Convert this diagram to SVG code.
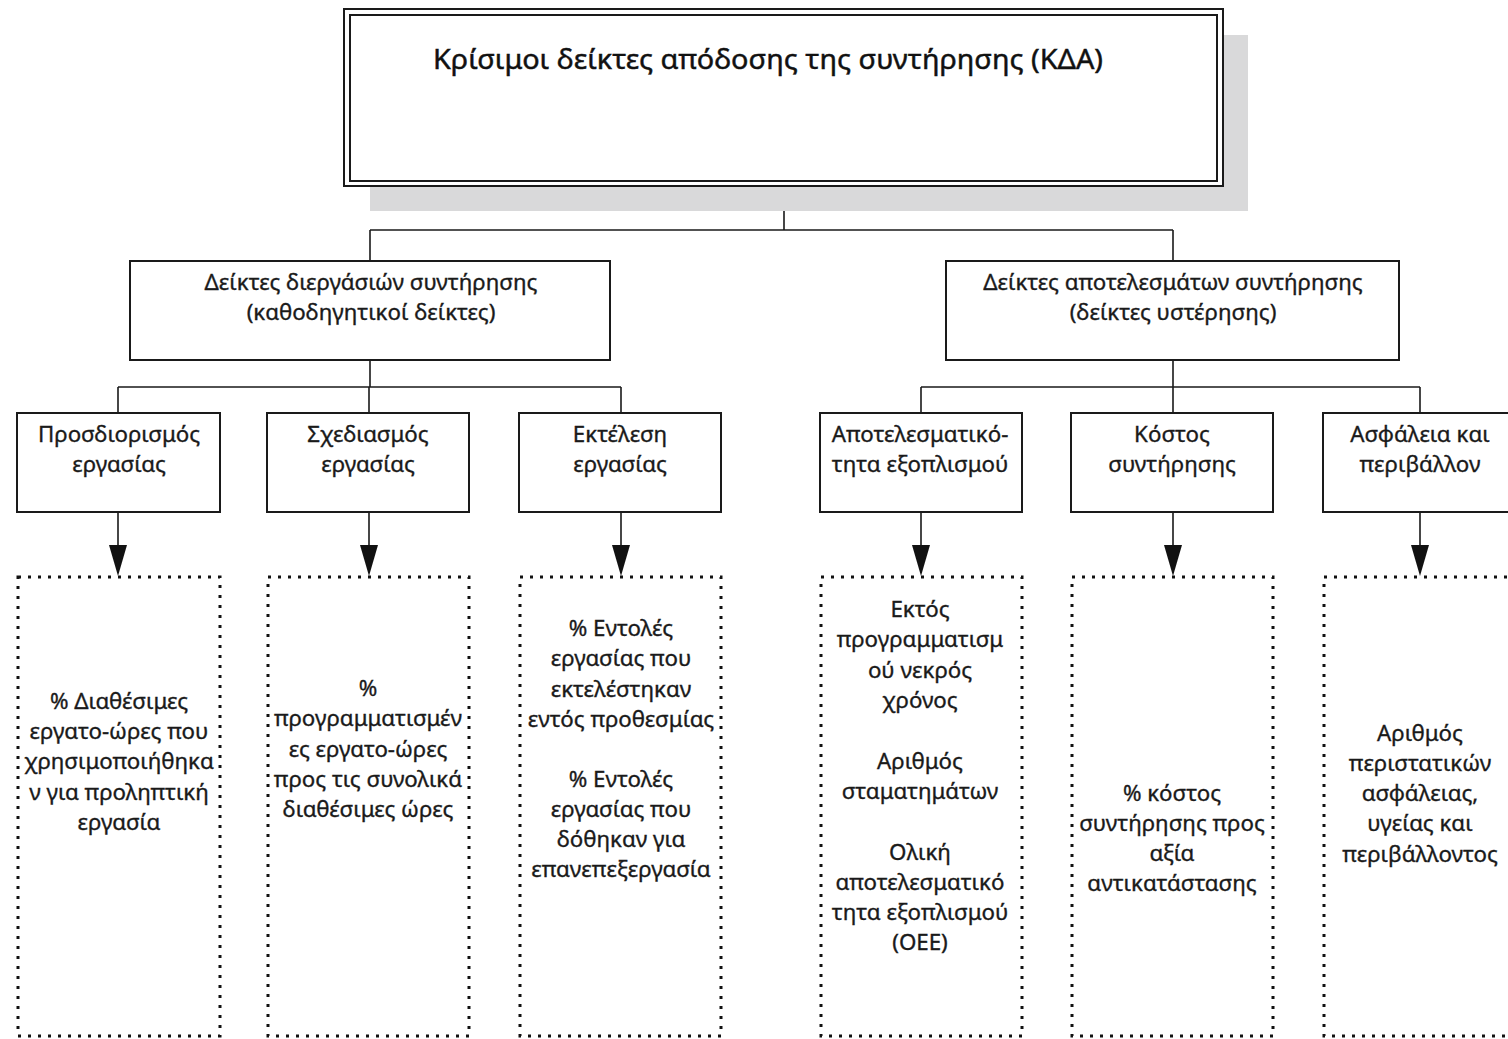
<svg xmlns="http://www.w3.org/2000/svg" width="1508" height="1039" viewBox="0 0 1508 1039">
  <style>
    .box { fill: #ffffff; stroke: #1a1a1a; stroke-width: 2; }
    .dot { fill: none; stroke: #111111; stroke-width: 3; stroke-dasharray: 3 7; }
    .wire { fill: none; stroke: #1a1a1a; stroke-width: 1.6; }
    .head { fill: #111111; }
    .lbl { font-family: "Noto Sans", "Open Sans", "DejaVu Sans", sans-serif; font-size: 22.3px; fill: #1a1a1a; stroke: #1a1a1a; stroke-width: 0.35; text-anchor: middle; }
    .title { font-family: "Noto Sans", "Open Sans", "DejaVu Sans", sans-serif; font-size: 28px; fill: #111111; stroke: #111111; stroke-width: 0.45; text-anchor: middle; }
  </style>
  <defs>
    <path id="arrowhead" class="head" d="M -9 0 L 9 0 L 0 31 Z"/>
  </defs>
  <rect width="1508" height="1039" fill="#ffffff"/>

  <!-- connectors -->
  <g id="connectors">
    <path class="wire" d="M 784 186 V 230 M 370 230 H 1173 M 370 230 V 261 M 1173 230 V 261"/>
    <path class="wire" d="M 370 360 V 387 M 118 387 H 621 M 118 387 V 413 M 369 387 V 413 M 621 387 V 413"/>
    <path class="wire" d="M 1173 360 V 387 M 921 387 H 1420 M 921 387 V 413 M 1173 387 V 413 M 1420 387 V 413"/>
    <path class="wire" d="M 118 512 V 548 M 369 512 V 548 M 621 512 V 548 M 921 512 V 548 M 1173 512 V 548 M 1420 512 V 548"/>
    <use href="#arrowhead" x="118" y="545"/>
    <use href="#arrowhead" x="369" y="545"/>
    <use href="#arrowhead" x="621" y="545"/>
    <use href="#arrowhead" x="921" y="545"/>
    <use href="#arrowhead" x="1173" y="545"/>
    <use href="#arrowhead" x="1420" y="545"/>
  </g>

  <!-- root -->
  <g id="root">
    <rect x="370" y="35" width="878" height="176" fill="#d9d9da"/>
    <rect x="344" y="9" width="879" height="177" fill="#ffffff" stroke="#1a1a1a" stroke-width="2"/>
    <rect x="350" y="15" width="867" height="166" fill="none" stroke="#1a1a1a" stroke-width="2"/>
    <text class="title" x="768" y="69" textLength="670" lengthAdjust="spacingAndGlyphs">Κρίσιμοι δείκτες απόδοσης της συντήρησης (ΚΔΑ)</text>
  </g>

  <!-- second level -->
  <g id="process">
    <rect class="box" x="130" y="261" width="480" height="99"/>
    <text class="lbl" x="371" y="290">Δείκτες διεργάσιών συντήρησης</text>
    <text class="lbl" x="371" y="320">(καθοδηγητικοί δείκτες)</text>
  </g>
  <g id="results">
    <rect class="box" x="946" y="261" width="453" height="99"/>
    <text class="lbl" x="1173" y="290">Δείκτες αποτελεσμάτων συντήρησης</text>
    <text class="lbl" x="1173" y="320">(δείκτες υστέρησης)</text>
  </g>

  <!-- third level -->
  <g id="identification">
    <rect class="box" x="17" y="413" width="203" height="99"/>
    <text class="lbl" x="119" y="442">Προσδιορισμός</text>
    <text class="lbl" x="119" y="472">εργασίας</text>
  </g>
  <g id="planning">
    <rect class="box" x="267" y="413" width="202" height="99"/>
    <text class="lbl" x="368" y="442">Σχεδιασμός</text>
    <text class="lbl" x="368" y="472">εργασίας</text>
  </g>
  <g id="execution">
    <rect class="box" x="519" y="413" width="202" height="99"/>
    <text class="lbl" x="620" y="442">Εκτέλεση</text>
    <text class="lbl" x="620" y="472">εργασίας</text>
  </g>
  <g id="effectiveness">
    <rect class="box" x="820" y="413" width="202" height="99"/>
    <text class="lbl" x="920" y="442">Αποτελεσματικό-</text>
    <text class="lbl" x="920" y="472">τητα εξοπλισμού</text>
  </g>
  <g id="cost">
    <rect class="box" x="1071" y="413" width="202" height="99"/>
    <text class="lbl" x="1172" y="442">Κόστος</text>
    <text class="lbl" x="1172" y="472">συντήρησης</text>
  </g>
  <g id="safety">
    <rect class="box" x="1323" y="413" width="202" height="99"/>
    <text class="lbl" x="1420" y="442">Ασφάλεια και</text>
    <text class="lbl" x="1420" y="472">περιβάλλον</text>
  </g>

  <!-- indicator panels -->
  <g id="kpi-identification">
    <rect class="dot" x="18" y="577" width="202" height="459"/>
    <text class="lbl" x="119" y="709">% Διαθέσιμες</text>
    <text class="lbl" x="119" y="739">εργατο-ώρες που</text>
    <text class="lbl" x="119" y="769">χρησιμοποιήθηκα</text>
    <text class="lbl" x="119" y="800">ν για προληπτική</text>
    <text class="lbl" x="119" y="830">εργασία</text>
  </g>
  <g id="kpi-planning">
    <rect class="dot" x="268" y="577" width="201" height="459"/>
    <text class="lbl" x="368" y="696">%</text>
    <text class="lbl" x="368" y="726">προγραμματισμέν</text>
    <text class="lbl" x="368" y="757">ες εργατο-ώρες</text>
    <text class="lbl" x="368" y="787">προς τις συνολικά</text>
    <text class="lbl" x="368" y="817">διαθέσιμες ώρες</text>
  </g>
  <g id="kpi-execution">
    <rect class="dot" x="520" y="577" width="201" height="459"/>
    <text class="lbl" x="621" y="636">% Εντολές</text>
    <text class="lbl" x="621" y="666">εργασίας που</text>
    <text class="lbl" x="621" y="697">εκτελέστηκαν</text>
    <text class="lbl" x="621" y="727">εντός προθεσμίας</text>
    <text class="lbl" x="621" y="787">% Εντολές</text>
    <text class="lbl" x="621" y="817">εργασίας που</text>
    <text class="lbl" x="621" y="847">δόθηκαν για</text>
    <text class="lbl" x="621" y="877">επανεπεξεργασία</text>
  </g>
  <g id="kpi-effectiveness">
    <rect class="dot" x="821" y="577" width="201" height="459"/>
    <text class="lbl" x="920" y="617">Εκτός</text>
    <text class="lbl" x="920" y="647">προγραμματισμ</text>
    <text class="lbl" x="920" y="678">ού νεκρός</text>
    <text class="lbl" x="920" y="708">χρόνος</text>
    <text class="lbl" x="920" y="769">Αριθμός</text>
    <text class="lbl" x="920" y="799">σταματημάτων</text>
    <text class="lbl" x="920" y="860">Ολική</text>
    <text class="lbl" x="920" y="890">αποτελεσματικό</text>
    <text class="lbl" x="920" y="920">τητα εξοπλισμού</text>
    <text class="lbl" x="920" y="950">(ΟΕΕ)</text>
  </g>
  <g id="kpi-cost">
    <rect class="dot" x="1072" y="577" width="201" height="459"/>
    <text class="lbl" x="1172" y="801">% κόστος</text>
    <text class="lbl" x="1172" y="831">συντήρησης προς</text>
    <text class="lbl" x="1172" y="861">αξία</text>
    <text class="lbl" x="1172" y="891">αντικατάστασης</text>
  </g>
  <g id="kpi-safety">
    <rect class="dot" x="1324" y="577" width="201" height="459"/>
    <text class="lbl" x="1420" y="741">Αριθμός</text>
    <text class="lbl" x="1420" y="771">περιστατικών</text>
    <text class="lbl" x="1420" y="801">ασφάλειας,</text>
    <text class="lbl" x="1420" y="831">υγείας και</text>
    <text class="lbl" x="1420" y="862">περιβάλλοντος</text>
  </g>
</svg>
